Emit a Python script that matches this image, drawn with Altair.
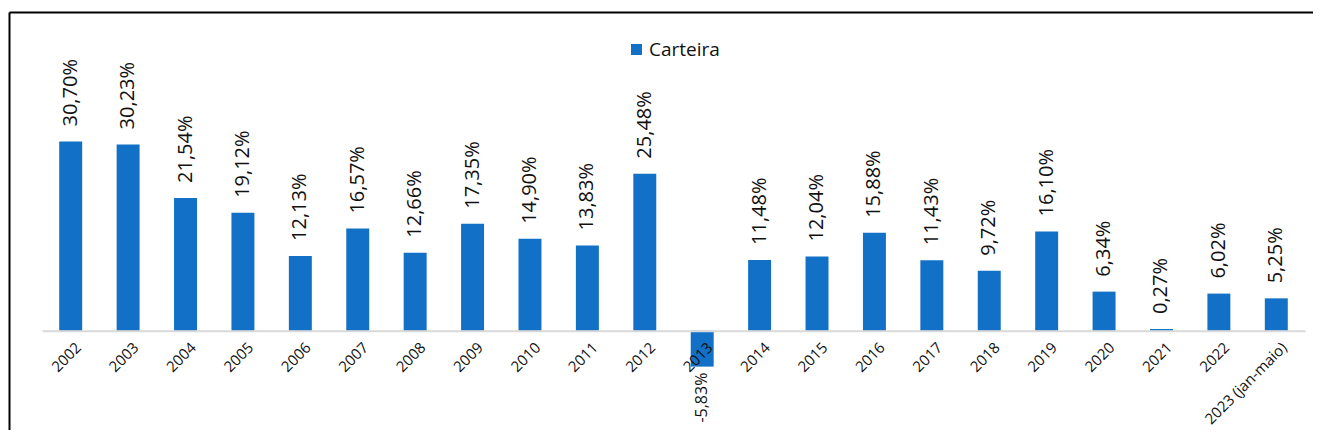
import altair as alt
import pandas as pd

years = ["2002", "2003", "2004", "2005", "2006", "2007", "2008", "2009", "2010", "2011",
         "2012", "2013", "2014", "2015", "2016", "2017", "2018", "2019", "2020", "2021",
         "2022", "2023 (jan-maio)"]
values = [30.70, 30.23, 21.54, 19.12, 12.13, 16.57, 12.66, 17.35, 14.90, 13.83,
          25.48, -5.83, 11.48, 12.04, 15.88, 11.43, 9.72, 16.10, 6.34, 0.27,
          6.02, 5.25]
labels = [f"{v:.2f}%".replace(".", ",") for v in values]

df = pd.DataFrame({"ano": years, "valor": values, "rotulo": labels, "serie": "Carteira"})

BLUE = "#1270C6"
FONT = "Open Sans"
W, H = 1263, 265
PAD_L, PAD_T, PAD_R = 34, 107, 8
Y_DOM = [-8, 35]
zero_off = -H * (0 - Y_DOM[0]) / (Y_DOM[1] - Y_DOM[0])

x = alt.X("ano:N", sort=years, title=None,
          scale=alt.Scale(paddingInner=0.6, paddingOuter=0.3),
          axis=alt.Axis(labelAngle=-45, labelFont=FONT, labelFontSize=15, labelColor="#111111",
                        ticks=False, labelPadding=9, labelOffset=3, offset=zero_off,
                        domainColor="#D9D9D9", domainWidth=2, zindex=1, labelOverlap=False,
                        labelLimit=200, labelAlign="right", labelBaseline="top"))
y = alt.Y("valor:Q", scale=alt.Scale(domain=Y_DOM, nice=False, zero=True), axis=None)

base = alt.Chart(df)

bars = base.mark_bar(color=BLUE).encode(
    x=x, y=y, y2=alt.datum(0),
    color=alt.Color("serie:N", scale=alt.Scale(range=[BLUE]),
                    legend=alt.Legend(title=None, orient="none", legendX=585, legendY=-75,
                                      symbolType="square", symbolSize=121, symbolStrokeWidth=0,
                                      labelFont=FONT, labelFontSize=19, labelColor="#111111",
                                      padding=0, symbolOffset=0, labelOffset=3))
)

pos_labels = base.transform_filter("datum.valor >= 0").mark_text(
    angle=270, align="left", baseline="middle", dx=15, font=FONT, fontSize=20, color="#111111"
).encode(x=alt.X("ano:N", sort=years), y="valor:Q", text="rotulo:N")

neg_labels = base.transform_filter("datum.valor < 0").mark_text(
    angle=270, align="right", baseline="middle", dx=-6, font=FONT, fontSize=16, color="#111111"
).encode(x=alt.X("ano:N", sort=years), y="valor:Q", text="rotulo:N")

one = alt.Chart(pd.DataFrame({"a": [0]}))
top_line = one.mark_rule(color="#000000", strokeWidth=2).encode(
    x=alt.value(9.5 - 8 - PAD_L), x2=alt.value(W + PAD_R), y=alt.value(12.5 - 8 - PAD_T))
left_line = one.mark_rule(color="#000000", strokeWidth=2).encode(
    x=alt.value(9.5 - 8 - PAD_L), y=alt.value(12.5 - 8 - PAD_T), y2=alt.value(H + 50))

chart = alt.layer(bars, pos_labels, neg_labels, top_line, left_line).properties(
    width=W, height=H,
    autosize=alt.AutoSizeParams(type="none"),
    padding={"left": PAD_L, "top": PAD_T, "right": PAD_R, "bottom": 50},
).configure_view(stroke=None)

chart.save("out.html", embed_options={"renderer": "svg", "actions": False})
